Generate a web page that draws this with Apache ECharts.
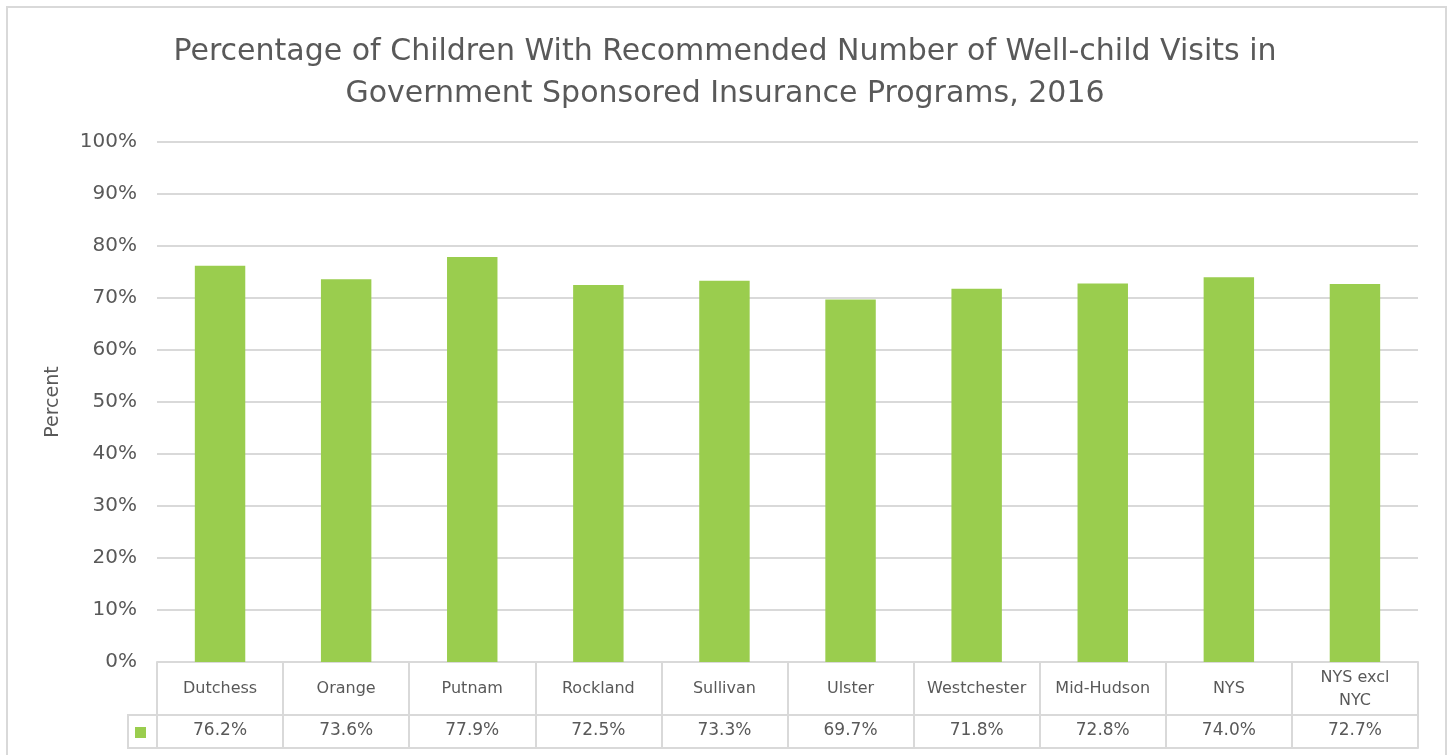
<!DOCTYPE html>
<html>
<head>
<meta charset="utf-8">
<script src="https://cdn.jsdelivr.net/npm/echarts@6/dist/echarts.min.js"></script>
<style>
  html, body { margin: 0; padding: 0; background: #fff; }
  #chart { width: 1450px; height: 755px; }
</style>
</head>
<body>
<div id="chart"></div>
<script>
'use strict';

// 图表数据
const titleText = 'Percentage of Children With Recommended Number of Well-child Visits in\nGovernment Sponsored Insurance Programs, 2016';
const categories = ['Dutchess', 'Orange', 'Putnam', 'Rockland', 'Sullivan', 'Ulster', 'Westchester', 'Mid-Hudson', 'NYS', 'NYS excl\nNYC'];
const percentValues = [76.2, 73.6, 77.9, 72.5, 73.3, 69.7, 71.8, 72.8, 74.0, 72.7];
const yTicks = { min: 0, max: 100, interval: 10 };

const FONT = '"Century Gothic", "DejaVu Sans", sans-serif';
const TEXT = '#595959';
const LINE = '#d9d9d9';
const GREEN = '#9acd4e';

const chart = echarts.init(document.getElementById('chart'));

const option = {
    animation: false,
    textStyle: { fontFamily: FONT, color: TEXT },
    title: {
        text: titleText,
        left: 'center',
        top: 26,
        textStyle: { fontFamily: FONT, fontSize: 30, fontWeight: 'normal', color: TEXT, lineHeight: 42 }
    },
    // 数据表左侧的图例色块
    legend: {
        left: 130,
        top: 722,
        icon: 'rect',
        itemWidth: 11,
        itemHeight: 11,
        formatter: () => '',
        data: ['Percent']
    },
    grid: { left: 157, right: 32, top: 142, bottom: 93 },
    xAxis: [
        {
            type: 'category',
            data: categories,
            position: 'bottom',
            axisLine: { show: true, lineStyle: { color: LINE, width: 2 } },
            axisTick: { show: true, length: 86, lineStyle: { color: LINE, width: 2 } },
            axisLabel: {
                interval: 0, margin: 27, verticalAlign: 'middle',
                fontFamily: FONT, fontSize: 16, color: TEXT, lineHeight: 23
            }
        },
        {
            type: 'category',
            data: categories,
            position: 'bottom',
            offset: 53,
            axisLine: { show: true, lineStyle: { color: LINE, width: 2 } },
            axisTick: { show: false },
            axisLabel: {
                interval: 0, margin: 16, verticalAlign: 'middle',
                fontFamily: FONT, fontSize: 17, color: TEXT,
                formatter: (v, i) => percentValues[i].toFixed(1) + '%'
            }
        },
        {
            type: 'category',
            data: categories,
            position: 'bottom',
            offset: 86,
            axisLine: { show: true, lineStyle: { color: LINE, width: 2 } },
            axisTick: { show: false },
            axisLabel: { show: false }
        }
    ],
    yAxis: {
        type: 'value',
        min: yTicks.min,
        max: yTicks.max,
        interval: yTicks.interval,
        name: 'Percent',
        nameLocation: 'middle',
        nameGap: 94,
        nameTextStyle: { fontFamily: FONT, fontSize: 19, color: TEXT },
        axisLine: { show: false },
        axisTick: { show: false },
        axisLabel: { margin: 20, fontFamily: FONT, fontSize: 20, color: TEXT, formatter: '{value}%' },
        splitLine: { lineStyle: { color: LINE, width: 2 } }
    },
    series: [{
        name: 'Percent',
        type: 'bar',
        xAxisIndex: 0,
        data: percentValues,
        barWidth: '40%',
        itemStyle: { color: GREEN }
    }],
    graphic: [
        {
            type: 'rect',
            shape: { x: 7, y: 7, width: 1439, height: 780 },
            style: { fill: null, stroke: LINE, lineWidth: 2 },
            silent: true
        },
        {
            type: 'rect',
            shape: { x: 128, y: 715, width: 29, height: 33 },
            style: { fill: null, stroke: LINE, lineWidth: 2 },
            silent: true
        }
    ]
};

chart.setOption(option);
</script>
</body>
</html>
